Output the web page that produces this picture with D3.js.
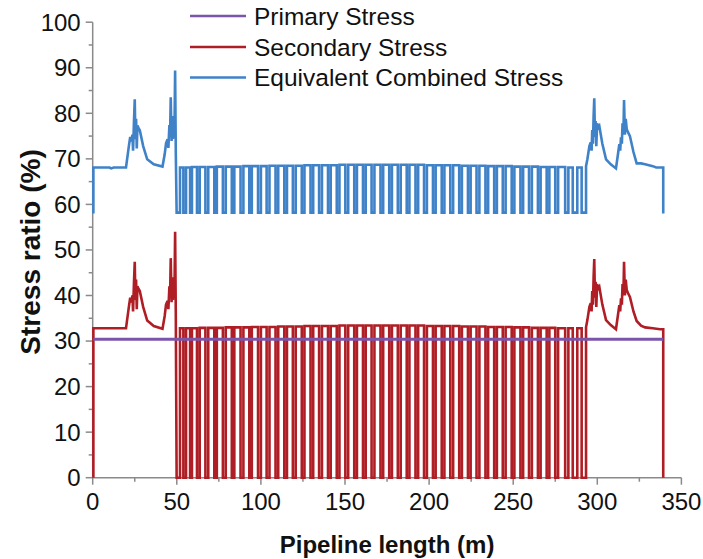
<!DOCTYPE html>
<html>
<head>
<meta charset="utf-8">
<script src="https://cdn.jsdelivr.net/npm/d3@7"></script>
<style>
  html, body { margin: 0; padding: 0; background: #ffffff; }
  svg { display: block; font-family: Arial, "Liberation Sans", sans-serif; }
</style>
</head>
<body>
<svg id="chart" width="703" height="559"></svg>
<script>
// ---------------- DATA ----------------
const xTicks = [0, 50, 100, 150, 200, 250, 300, 350];
const xMinorTicks = [25, 75, 125, 175, 225, 275, 325];
const yTicks = [0, 10, 20, 30, 40, 50, 60, 70, 80, 90, 100];
const yMinorTicks = [5, 15, 25, 35, 45, 55, 65, 75, 85, 95];

const seriesNames = ["Primary Stress", "Secondary Stress", "Equivalent Combined Stress"];
const seriesColors = ["#7B55AA", "#B01E25", "#3F82C8"];

// Primary stress (constant)
const primaryPts = [[0.4, 30.4], [339.2, 30.4]];

// Secondary stress – left section (0 .. 50 m)
const secLeft = [
  [0.4, 0], [0.4, 32.8], [19.8, 32.8], [21.5, 37.5], [22.3, 39.5], [23.0, 38.5], [23.6, 40.0],
  [24.0, 36.5], [24.5, 42.5], [25.0, 47.4], [25.4, 39.0], [25.8, 43.5], [26.2, 37.0],
  [26.6, 42.0], [27.2, 41.5], [28.0, 41.0], [30.0, 37.5], [32.4, 34.5], [36.3, 33.3],
  [41.5, 32.7], [42.8, 35.5], [43.6, 38.0], [44.5, 38.8], [45.0, 37.0], [45.6, 42.0],
  [46.0, 40.0], [46.4, 48.2], [46.9, 38.5], [47.3, 44.0], [47.7, 39.0], [48.2, 42.5],
  [48.6, 40.0], [49.0, 54.0], [49.4, 36.0], [49.9, 0]
];
// Equivalent combined stress – left section
const eqLeft = [
  [0.4, 58.0], [0.4, 68.1], [10.0, 68.1], [11.0, 67.9], [12.5, 68.1], [19.8, 68.1], [21.5, 72.8], [22.3, 74.8], [23.0, 73.8],
  [23.6, 75.3], [24.0, 71.8], [24.5, 77.8], [25.0, 83.1], [25.4, 74.3], [25.8, 78.8],
  [26.2, 72.3], [26.6, 77.3], [27.2, 76.8], [28.0, 76.3], [30.0, 72.8], [32.4, 69.9],
  [36.3, 68.8], [41.5, 68.3], [42.8, 71.0], [43.6, 73.4], [44.5, 74.3], [45.0, 72.4],
  [45.6, 77.4], [46.0, 75.4], [46.4, 83.5], [46.9, 73.9], [47.3, 79.4], [47.7, 74.4],
  [48.2, 77.9], [48.6, 75.4], [49.0, 89.4], [49.4, 71.4], [49.9, 58.2]
];

// Middle section: first rise, then each dip [start, end, secondary high level, equivalent high level]
const firstRise = 51.9;
const secLow = 0;
const eqLow = 58.2;
const dips = [
  [53.9, 55.5, 32.8, 68.1], [57.9, 59.0, 32.8, 68.1], [62.0, 63.6, 32.8, 68.2],
  [67.0, 68.7, 32.9, 68.2], [72.3, 73.8, 32.9, 68.2], [77.4, 79.1, 32.9, 68.3],
  [82.7, 84.2, 33.0, 68.3], [87.9, 89.6, 33.0, 68.3], [93.1, 94.6, 33.0, 68.4],
  [98.3, 100.0, 33.1, 68.4], [103.4, 105.1, 33.1, 68.4], [108.7, 110.3, 33.1, 68.5],
  [113.9, 115.5, 33.2, 68.5], [119.0, 120.7, 33.2, 68.5], [124.3, 125.9, 33.2, 68.5],
  [129.5, 131.1, 33.3, 68.6], [134.6, 136.3, 33.3, 68.6], [139.9, 141.5, 33.3, 68.6],
  [145.1, 146.7, 33.3, 68.6], [150.2, 151.9, 33.4, 68.7], [155.5, 157.1, 33.4, 68.7],
  [160.7, 162.3, 33.4, 68.7], [165.8, 167.5, 33.4, 68.7], [171.1, 172.7, 33.4, 68.7],
  [176.3, 177.9, 33.4, 68.7], [181.4, 183.1, 33.4, 68.7], [186.7, 188.3, 33.4, 68.7],
  [191.9, 193.5, 33.4, 68.7], [197.0, 198.7, 33.4, 68.7], [202.3, 203.9, 33.3, 68.6],
  [207.5, 209.1, 33.3, 68.6], [212.6, 214.3, 33.3, 68.6], [217.9, 219.5, 33.3, 68.6],
  [223.1, 224.7, 33.2, 68.5], [228.2, 229.9, 33.2, 68.5], [233.5, 235.1, 33.2, 68.5],
  [238.7, 240.3, 33.1, 68.4], [243.8, 245.5, 33.1, 68.4], [249.1, 250.7, 33.1, 68.4],
  [254.3, 255.9, 33.0, 68.3], [259.4, 261.1, 33.0, 68.3], [264.7, 266.3, 32.9, 68.3],
  [269.9, 271.5, 32.9, 68.2], [275.0, 276.7, 32.9, 68.2], [280.9, 282.8, 32.8, 68.2],
  [285.4, 288.1, 32.8, 68.1], [290.7, 293.3, 32.8, 68.1]
];

// Secondary stress – right section (293 .. 340 m)
const secRight = [
  [293.3, 33.0], [294.1, 34.6], [295.3, 37.5], [296.1, 38.3], [296.6, 36.5], [297.0, 41.0],
  [297.4, 38.0], [297.8, 44.0], [298.2, 48.0], [298.6, 39.5], [299.0, 43.0], [299.4, 37.5],
  [299.9, 42.5], [300.5, 41.5], [301.2, 41.9], [303.0, 38.0], [305.2, 34.6], [308.0, 33.5],
  [311.1, 32.6], [312.2, 35.5], [313.1, 37.9], [313.6, 36.5], [314.1, 39.4], [314.6, 38.0],
  [315.0, 42.5], [315.5, 40.0], [315.9, 47.4], [316.4, 40.0], [316.9, 43.5], [317.5, 41.2],
  [318.3, 40.5], [319.4, 39.7], [321.5, 36.5], [323.4, 34.4], [326.0, 33.4], [328.4, 33.0],
  [333.0, 32.8], [337.3, 32.6], [339.2, 32.6], [339.2, 0]
];
// Equivalent combined stress – right section
const eqRight = [
  [293.3, 68.4], [294.1, 69.9], [295.3, 72.8], [296.1, 73.6], [296.6, 71.8], [297.0, 76.3],
  [297.4, 73.3], [297.8, 79.3], [298.2, 83.3], [298.6, 74.8], [299.0, 78.3], [299.4, 72.8],
  [299.9, 77.8], [300.5, 76.8], [301.2, 77.2], [303.0, 73.3], [305.2, 69.9], [308.0, 68.8],
  [311.1, 67.9], [312.2, 70.8], [313.1, 73.2], [313.6, 71.8], [314.1, 74.7], [314.6, 73.3],
  [315.0, 77.8], [315.5, 75.3], [315.9, 82.9], [316.4, 75.3], [316.9, 78.8], [317.5, 76.5],
  [318.3, 75.8], [319.4, 75.0], [321.5, 71.5], [323.4, 69.0], [326.0, 69.0], [328.4, 68.8],
  [333.0, 68.4], [335.0, 68.1], [339.2, 68.1], [339.2, 58.0]
];

// ---------------- BUILD SERIES ----------------
function buildSeries(left, right, low, levelIdx) {
  const pts = left.slice();
  let up = firstRise;
  pts.push([up, low]);
  dips.forEach(d => {
    const hi = d[levelIdx];
    pts.push([up, hi], [d[0], hi], [d[0], low]);
    up = d[1];
    pts.push([up, low]);
  });
  return pts.concat(right);
}
const secondaryPts = buildSeries(secLeft, secRight, secLow, 2);
const equivalentPts = buildSeries(eqLeft, eqRight, eqLow, 3);

// ---------------- DRAW ----------------
const svg = d3.select("#chart");
svg.append("rect").attr("width", 703).attr("height", 559).attr("fill", "#ffffff");

const x = d3.scaleLinear().domain([0, 350]).range([92.7, 681.4]);
const y = d3.scaleLinear().domain([0, 100]).range([477.7, 22.2]);

const axisColor = "#8a8a8a";
const fontSize = 24;

// Bottom axis
const gx = svg.append("g").attr("transform", `translate(0,${y(0)})`);
gx.append("line").attr("x1", x(0)).attr("x2", x(350)).attr("stroke", axisColor).attr("stroke-width", 1.5);
gx.selectAll("line.major").data(xTicks).enter().append("line")
  .attr("x1", d => x(d)).attr("x2", d => x(d)).attr("y1", 0).attr("y2", 7)
  .attr("stroke", axisColor).attr("stroke-width", 1.5);
gx.selectAll("line.minor").data(xMinorTicks).enter().append("line")
  .attr("x1", d => x(d)).attr("x2", d => x(d)).attr("y1", 0).attr("y2", 4)
  .attr("stroke", axisColor).attr("stroke-width", 1.5);
gx.selectAll("text").data(xTicks).enter().append("text")
  .attr("x", d => x(d)).attr("y", 32).attr("text-anchor", "middle")
  .attr("font-size", fontSize).attr("fill", "#111").text(d => d);

// Left axis
const gy = svg.append("g").attr("transform", `translate(${x(0)},0)`);
gy.append("line").attr("y1", y(0)).attr("y2", y(100)).attr("stroke", axisColor).attr("stroke-width", 1.5);
gy.selectAll("line.major").data(yTicks).enter().append("line")
  .attr("x1", -7).attr("x2", 0).attr("y1", d => y(d)).attr("y2", d => y(d))
  .attr("stroke", axisColor).attr("stroke-width", 1.5);
gy.selectAll("line.minor").data(yMinorTicks).enter().append("line")
  .attr("x1", -4).attr("x2", 0).attr("y1", d => y(d)).attr("y2", d => y(d))
  .attr("stroke", axisColor).attr("stroke-width", 1.5);
gy.selectAll("text").data(yTicks).enter().append("text")
  .attr("x", -12).attr("y", d => y(d)).attr("dy", "0.35em").attr("text-anchor", "end")
  .attr("font-size", fontSize).attr("fill", "#111").text(d => d);

// Axis titles
svg.append("text").attr("x", x(175)).attr("y", 553).attr("text-anchor", "middle")
  .attr("font-size", 24).attr("font-weight", "bold").attr("fill", "#111").text("Pipeline length (m)");
svg.append("text").attr("transform", `translate(40,${(y(0) + y(100)) / 2 + 2}) rotate(-90)`)
  .attr("text-anchor", "middle").attr("font-size", 28).attr("font-weight", "bold")
  .attr("fill", "#111").text("Stress ratio (%)");

// Lines
const line = d3.line().x(d => x(d[0])).y(d => y(d[1]));
svg.append("path").datum(equivalentPts).attr("d", line).attr("fill", "none")
  .attr("stroke", seriesColors[2]).attr("stroke-width", 2.6).attr("stroke-linejoin", "miter");
svg.append("path").datum(secondaryPts).attr("d", line).attr("fill", "none")
  .attr("stroke", seriesColors[1]).attr("stroke-width", 2.6).attr("stroke-linejoin", "miter");
svg.append("path").datum(primaryPts).attr("d", line).attr("fill", "none")
  .attr("stroke", seriesColors[0]).attr("stroke-width", 2.8);

// Legend
const legendY = [16, 47, 77.5];
const lg = svg.append("g");
seriesNames.forEach((name, i) => {
  lg.append("line").attr("x1", 190).attr("x2", 246).attr("y1", legendY[i]).attr("y2", legendY[i])
    .attr("stroke", seriesColors[i]).attr("stroke-width", 2.6);
  lg.append("text").attr("x", 254).attr("y", legendY[i]).attr("dy", "0.35em")
    .attr("font-size", 24.5).attr("fill", "#111").text(name);
});
</script>
</body>
</html>
